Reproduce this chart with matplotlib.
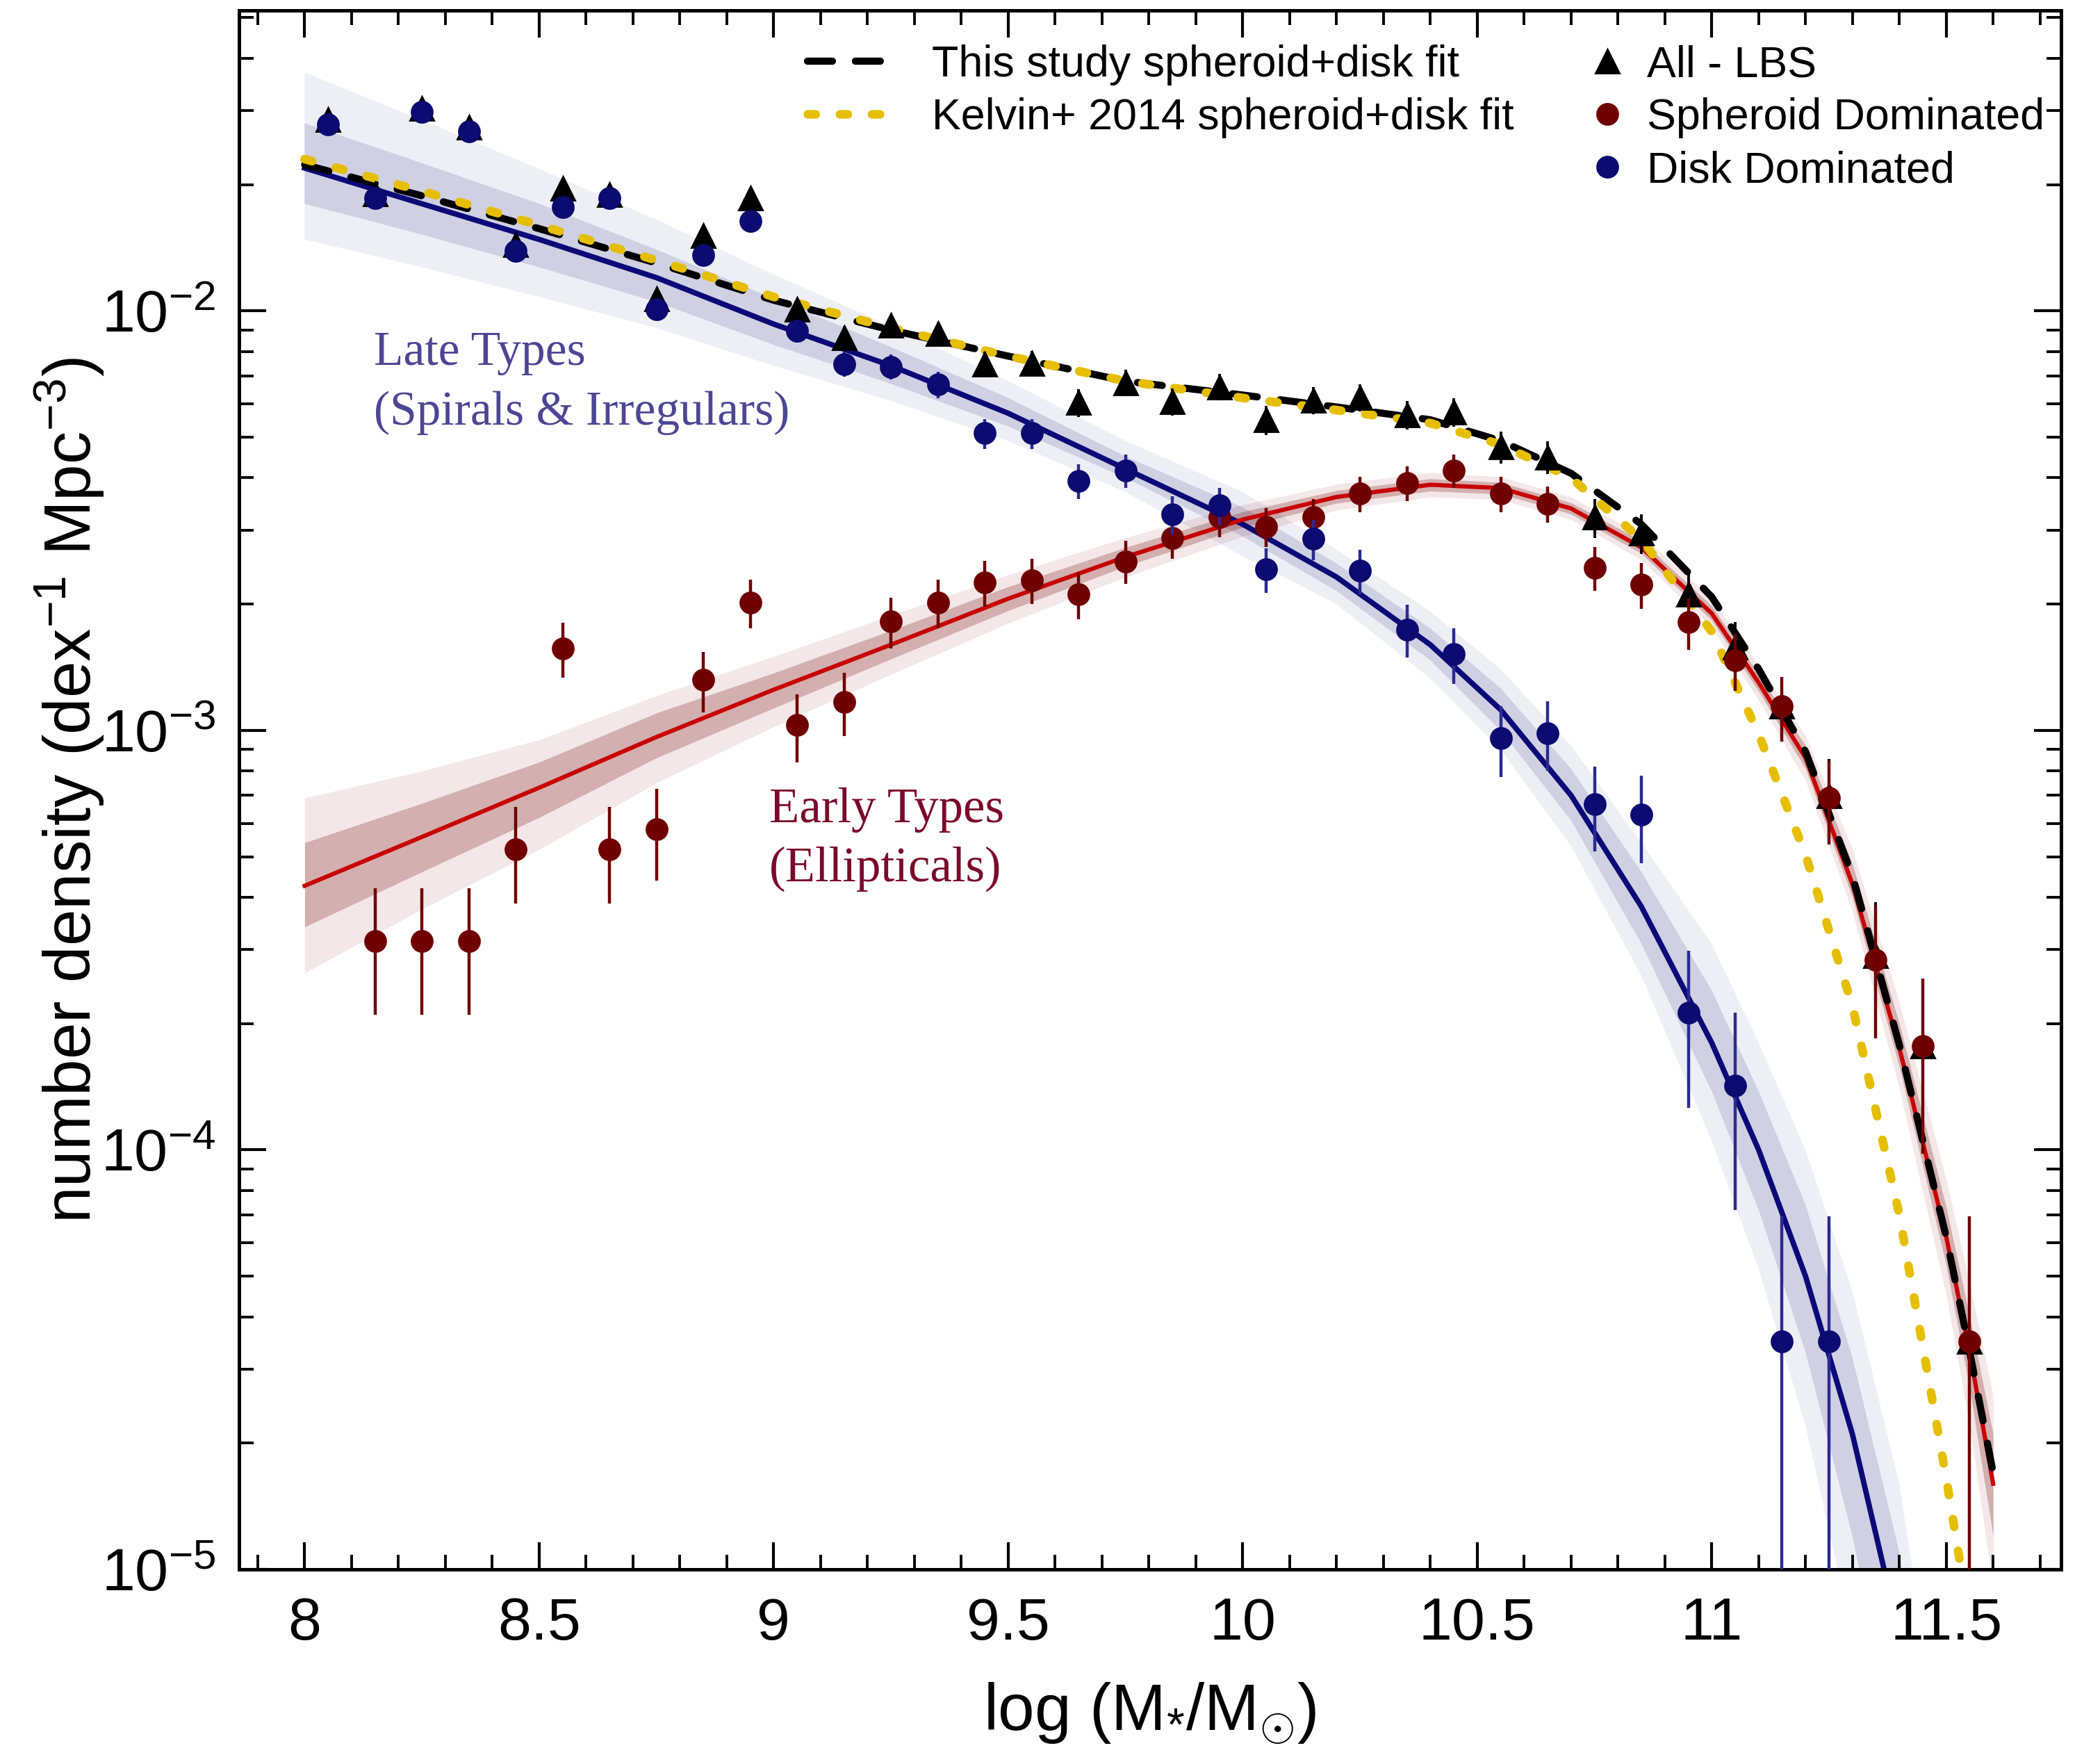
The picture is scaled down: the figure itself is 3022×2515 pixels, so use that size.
#
# Stellar mass function split into spheroid- and disk-dominated galaxies
#

import numpy as np
import matplotlib
matplotlib.use('Agg')
import matplotlib.pyplot as plt
from matplotlib.lines import Line2D
from matplotlib.ticker import MultipleLocator, FuncFormatter, LogLocator, NullFormatter

plt.rcParams['font.family'] = ['Liberation Sans', 'DejaVu Sans']
plt.rcParams['mathtext.fontset'] = 'custom'
plt.rcParams['mathtext.rm'] = 'Liberation Sans'
plt.rcParams['mathtext.it'] = 'Liberation Sans:italic'
plt.rcParams['mathtext.bf'] = 'Liberation Sans:bold'
plt.rcParams['mathtext.default'] = 'rm'

# binned number densities (bin centres in log M*/Msun)
mass_bins = [8.05, 8.15, 8.25, 8.35, 8.45, 8.55, 8.65, 8.75, 8.85, 8.95,
             9.05, 9.15, 9.25, 9.35, 9.45, 9.55, 9.65, 9.75, 9.85, 9.95,
             10.05, 10.15, 10.25, 10.35, 10.45, 10.55, 10.65, 10.75, 10.85, 10.95,
             11.05, 11.15, 11.25, 11.35, 11.45, 11.55]

all_lbs = [0.0286, 0.0190, 0.0304, 0.0274, 0.0144, 0.0196, 0.0189, 0.0107, 0.0151, 0.0186,
           0.0101, 0.00864, 0.00923, 0.00883, 0.00747, 0.0075, 0.00604, 0.00674, 0.00608, 0.00659,
           0.00550, 0.00613, 0.00622, 0.00565, 0.00574, 0.00474, 0.00448, 0.00322, 0.00295, 0.00211,
           0.00158, 0.00114, 0.000698, 0.00029, 0.000177, 3.5e-5]
all_err = [1.0e-3, 8.2e-4, 1.03e-3, 9.8e-4, 7.1e-4, 8.3e-4, 8.1e-4, 6.1e-4, 7.3e-4, 8.1e-4,
           5.9e-4, 5.5e-4, 5.7e-4, 5.6e-4, 5.1e-4, 5.1e-4, 4.6e-4, 4.9e-4, 4.6e-4, 4.8e-4,
           4.4e-4, 4.6e-4, 4.7e-4, 4.4e-4, 4.5e-4, 4.1e-4, 4.0e-4, 3.4e-4, 3.2e-4, 2.7e-4,
           2.35e-4, 2.0e-4, 1.56e-4, 1.0e-4, 7.9e-5, 3.45e-5]

spheroid = [np.nan, 0.000315, 0.000315, 0.000315, 0.000521, 0.00157, 0.000521, 0.000582, 0.00132, 0.00202,
            0.00103, 0.00117, 0.00182, 0.00202, 0.00225, 0.00228, 0.00211, 0.00253, 0.00288, 0.00322,
            0.00306, 0.00322, 0.00367, 0.00389, 0.00416, 0.00367, 0.00347, 0.00244, 0.00223, 0.00181,
            0.00147, 0.00114, 0.000689, 0.000284, 0.000177, 3.5e-5]
spheroid_err = [np.nan, 1.05e-4, 1.05e-4, 1.05e-4, 1.35e-4, 2.34e-4, 1.35e-4, 1.43e-4, 2.15e-4, 2.66e-4,
                1.90e-4, 2.02e-4, 2.52e-4, 2.66e-4, 2.81e-4, 2.82e-4, 2.72e-4, 2.98e-4, 3.17e-4, 3.36e-4,
                3.27e-4, 3.36e-4, 3.58e-4, 3.69e-4, 3.82e-4, 3.58e-4, 3.48e-4, 2.92e-4, 2.79e-4, 2.52e-4,
                2.27e-4, 2.0e-4, 1.55e-4, 9.97e-5, 7.9e-5, 3.45e-5]

disk = [0.0278, 0.0186, 0.0298, 0.0268, 0.0139, 0.0177, 0.0186, 0.0101, 0.0136, 0.0164,
        0.00896, 0.00747, 0.00736, 0.00668, 0.00511, 0.00511, 0.00393, 0.00416, 0.00327, 0.00344,
        0.00242, 0.00286, 0.00240, 0.00174, 0.00152, 0.000957, 0.000986, 0.000668, 0.000631, 0.000212,
        0.000142, 3.5e-5, 3.5e-5, np.nan, np.nan, np.nan]
disk_err = [9.9e-4, 8.1e-4, 1.02e-3, 9.7e-4, 7.0e-4, 7.9e-4, 8.1e-4, 5.9e-4, 6.9e-4, 7.6e-4,
            5.6e-4, 5.1e-4, 5.1e-4, 4.8e-4, 4.2e-4, 4.2e-4, 3.7e-4, 3.8e-4, 3.4e-4, 3.5e-4,
            2.9e-4, 3.2e-4, 2.9e-4, 2.5e-4, 2.3e-4, 1.83e-4, 1.86e-4, 1.53e-4, 1.49e-4, 8.6e-5,
            7.0e-5, 3.45e-5, 3.45e-5, np.nan, np.nan, np.nan]

# fitted curves at these masses
fit_mass = [8.0, 8.25, 8.5, 8.75, 9.0, 9.25, 9.5, 9.75, 10.0, 10.2, 10.4,
            10.55, 10.7, 10.85, 11.0, 11.1, 11.2, 11.3, 11.4, 11.5, 11.55, 11.6]

disk_fit = [0.0219, 0.0180, 0.0148, 0.0120, 0.0093, 0.0074, 0.0057, 0.0042, 0.0031, 0.00232, 0.00160,
            0.00112, 0.00070, 0.00038, 0.000180, 0.000100, 5.0e-5, 2.1e-5, 7e-6, np.nan, np.nan, np.nan]
disk_lo_outer = [0.0148, 0.0127, 0.0108, 0.0091, 0.0074, 0.0061, 0.0049, 0.0037, 0.0026, 0.0020, 0.00133,
                 0.00090, 0.00053, 0.00026, 0.000105, 5.2e-5, 2.2e-5, 7e-6, 1.5e-6, 1e-7, np.nan, np.nan]
disk_hi_outer = [0.037, 0.0285, 0.0218, 0.0165, 0.0122, 0.0092, 0.0068, 0.0049, 0.0037, 0.0027, 0.00192,
                 0.00140, 0.00092, 0.00054, 0.00031, 0.00018, 0.000100, 4.6e-5, 1.6e-5, 3e-6, np.nan, np.nan]
disk_lo_inner = [0.0180, 0.0152, 0.0127, 0.0105, 0.0083, 0.0067, 0.0053, 0.0040, 0.0029, 0.00215, 0.00147,
                 0.00100, 0.00061, 0.00031, 0.000138, 7.2e-5, 3.3e-5, 1.2e-5, 3.5e-6, 5e-7, np.nan, np.nan]
disk_hi_inner = [0.0280, 0.0225, 0.0180, 0.0140, 0.0107, 0.0082, 0.0062, 0.0045, 0.0034, 0.00250, 0.00175,
                 0.00126, 0.00081, 0.00046, 0.00024, 0.000138, 7.4e-5, 3.2e-5, 1.1e-5, 2e-6, np.nan, np.nan]

sph_fit = [0.000426, 0.000557, 0.00073, 0.000964, 0.00125, 0.00160, 0.00206, 0.00259, 0.00318, 0.00360, 0.00385,
           0.00378, 0.00338, 0.00273, 0.00190, 0.00130, 0.00086, 0.00043, 0.000175, 6.2e-5, 3.3e-5, 1.6e-5]
sph_lo_outer = [0.000264, 0.000375, 0.00052, 0.00075, 0.00102, 0.00136, 0.00180, 0.00232, 0.00290, 0.00335, 0.00360,
                0.00355, 0.00318, 0.00255, 0.00176, 0.00118, 0.00076, 0.00037, 0.000140, 4.5e-5, 2.2e-5, 9e-6]
sph_hi_outer = [0.00069, 0.00080, 0.00095, 0.00121, 0.00150, 0.00188, 0.00235, 0.00288, 0.00345, 0.00386, 0.00412,
                0.00402, 0.00360, 0.00292, 0.00206, 0.00143, 0.00097, 0.00052, 0.000225, 8.5e-5, 4.8e-5, 2.6e-5]
sph_lo_inner = [0.00034, 0.00046, 0.00062, 0.00086, 0.00113, 0.00148, 0.00193, 0.00246, 0.00305, 0.00348, 0.00372,
                0.00366, 0.00328, 0.00264, 0.00183, 0.00124, 0.00081, 0.00040, 0.000158, 5.3e-5, 2.7e-5, 1.2e-5]
sph_hi_inner = [0.00054, 0.00067, 0.00084, 0.00110, 0.00137, 0.00173, 0.00220, 0.00273, 0.00332, 0.00373, 0.00398,
                0.00390, 0.00349, 0.00283, 0.00198, 0.00136, 0.00092, 0.00048, 0.000200, 7.3e-5, 4.0e-5, 2.1e-5]

total_fit = [0.0223, 0.0188, 0.0157, 0.0130, 0.0106, 0.0090, 0.0078, 0.0068, 0.0063, 0.0059, 0.0055,
             0.0049, 0.0041, 0.0031, 0.00208, 0.00140, 0.00089, 0.00045, 0.000178, 6.2e-5, 3.3e-5, 1.7e-5]
kelvin_fit = [0.0230, 0.0193, 0.0160, 0.0132, 0.0108, 0.0091, 0.0078, 0.0068, 0.0062, 0.0058, 0.0054,
              0.0048, 0.0040, 0.00285, 0.00172, 0.00098, 0.000505, 0.00022, 7.0e-5, 1.65e-5, 7.5e-6, np.nan]

navy = '#0b0b72'
maroon = '#700000'
gold = '#e6be00'
late_col = '#4c4694'
early_col = '#7a0a2a'

fig = plt.figure(figsize=(15.11, 12.575), dpi=200)
ax = fig.add_axes([0.1138, 0.1022, 0.8677, 0.8918])
ax.set_yscale('log')

# posterior bands
ax.fill_between(fit_mass, disk_lo_outer, disk_hi_outer, color='#1b1b7a', alpha=0.07, lw=0, zorder=1)
ax.fill_between(fit_mass, disk_lo_inner, disk_hi_inner, color='#1b1b7a', alpha=0.14, lw=0, zorder=1)
ax.fill_between(fit_mass, sph_lo_outer, sph_hi_outer, color='#8b1a1a', alpha=0.10, lw=0, zorder=1)
ax.fill_between(fit_mass, sph_lo_inner, sph_hi_inner, color='#7a1010', alpha=0.26, lw=0, zorder=1)

ax.plot(fit_mass, disk_fit, color='#0a0a78', lw=2.8, zorder=2)
ax.plot(fit_mass, sph_fit, color='#c80000', lw=2.2, zorder=2)

ax.plot(fit_mass, total_fit, color='k', lw=3.7, dashes=(3.5, 3.2),
        dash_capstyle='round', zorder=3)
ax.plot(fit_mass, kelvin_fit, color=gold, lw=4.5, dashes=(0.9, 2.8),
        dash_capstyle='round', zorder=4)

ax.errorbar(mass_bins, all_lbs, yerr=all_err, fmt='^', color='k', ms=12,
            elinewidth=1.4, capsize=0, zorder=5)
ax.errorbar(mass_bins, spheroid, yerr=spheroid_err, fmt='o', color=maroon, ms=10.8,
            elinewidth=1.6, capsize=0, zorder=6)
ax.errorbar(mass_bins, disk, yerr=disk_err, fmt='o', color=navy, ecolor='#2a2a92', ms=10.8,
            elinewidth=1.6, capsize=0, zorder=7)

ax.text(8.148, 10**-2.129, 'Late Types', family=['Liberation Serif'], fontsize=25,
        color=late_col, zorder=8)
ax.text(8.148, 10**-2.272, '(Spirals & Irregulars)', family=['Liberation Serif'], fontsize=25,
        color=late_col, zorder=8)
ax.text(8.991, 10**-3.219, 'Early Types', family=['Liberation Serif'], fontsize=25.5,
        color=early_col, zorder=8)
ax.text(8.991, 10**-3.360, '(Ellipticals)', family=['Liberation Serif'], fontsize=25.5,
        color=early_col, zorder=8)

ax.set_xlim(7.86, 11.745)
ax.set_ylim(1e-5, 0.052)

ax.xaxis.set_major_locator(MultipleLocator(0.5))
ax.xaxis.set_minor_locator(MultipleLocator(0.1))
ax.xaxis.set_major_formatter(FuncFormatter(lambda v, p: '%g' % v))
ax.yaxis.set_major_locator(LogLocator(base=10, numticks=10))
ax.yaxis.set_minor_locator(LogLocator(base=10, subs=np.arange(2, 10), numticks=20))
ax.yaxis.set_minor_formatter(NullFormatter())

ax.tick_params(which='both', direction='in', top=True, right=True)
ax.tick_params(which='major', length=14, width=1.5, labelsize=31)
ax.tick_params(axis='x', which='major', pad=14)
ax.tick_params(axis='y', which='major', pad=12)
ax.tick_params(which='minor', length=7.5, width=1.4)
for s in ax.spines.values():
    s.set_linewidth(1.8)

ax.set_xlabel(r'log (M$_{*}$/M$_{\odot}$)', fontsize=34, labelpad=15)
ax.set_ylabel(r'number density (dex$^{-1}$ Mpc$^{-3}$)', fontsize=34, labelpad=-3)

line_handles = [Line2D([], [], color='k', lw=3.7, dashes=(3.5, 3.2), dash_capstyle='round'),
                Line2D([], [], color=gold, lw=4.5, dashes=(0.9, 2.8), dash_capstyle='round')]
leg1 = ax.legend(line_handles, ['This study spheroid+disk fit', 'Kelvin+ 2014 spheroid+disk fit'],
                 loc='upper left', bbox_to_anchor=(0.312, 0.978), frameon=False, fontsize=22.6,
                 handlelength=2.0, handletextpad=0.85, labelspacing=0.27, borderpad=0, borderaxespad=0)
ax.add_artist(leg1)

pt_handles = [Line2D([], [], ls='none', marker='^', color='k', ms=12),
              Line2D([], [], ls='none', marker='o', color=maroon, ms=10.8),
              Line2D([], [], ls='none', marker='o', color=navy, ms=10.8)]
ax.legend(pt_handles, ['All - LBS', 'Spheroid Dominated', 'Disk Dominated'],
          loc='upper left', bbox_to_anchor=(0.739, 0.978), frameon=False, fontsize=22.6,
          handlelength=1.0, handletextpad=0.4, labelspacing=0.27, borderpad=0, borderaxespad=0)

fig.savefig('out.png', dpi=200)
